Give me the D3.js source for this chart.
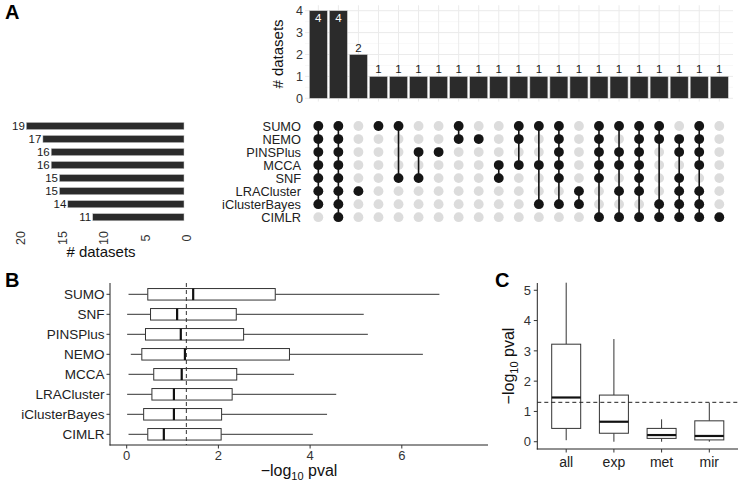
<!DOCTYPE html>
<html><head><meta charset="utf-8">
<script src="https://cdn.jsdelivr.net/npm/d3@7"></script>
<style>
body{margin:0;background:#fff;}
svg{display:block;font-family:"Liberation Sans",Arial,Helvetica,sans-serif;}
</style>
</head><body>
<svg id="chart" width="738" height="486"></svg>
<script>
// ---------- Panel A data ----------
const setNames = ["SUMO","NEMO","PINSPlus","MCCA","SNF","LRACluster","iClusterBayes","CIMLR"];
const setSizes = [19,17,16,16,15,15,14,11];
const intersectionCounts = [4,4,2,1,1,1,1,1,1,1,1,1,1,1,1,1,1,1,1,1,1];
const intersectionMembers = [
  ["SUMO","NEMO","PINSPlus","MCCA","SNF","LRACluster","iClusterBayes"],
  ["SUMO","NEMO","PINSPlus","MCCA","SNF","LRACluster","iClusterBayes","CIMLR"],
  ["LRACluster"],
  ["SUMO"],
  ["SUMO","SNF"],
  ["PINSPlus","SNF"],
  ["PINSPlus"],
  ["SUMO","NEMO"],
  ["NEMO"],
  ["MCCA","SNF"],
  ["SUMO","NEMO","MCCA"],
  ["SUMO","MCCA","iClusterBayes"],
  ["SUMO","NEMO","PINSPlus","MCCA","SNF","iClusterBayes"],
  ["LRACluster","iClusterBayes"],
  ["SUMO","NEMO","PINSPlus","MCCA","SNF","CIMLR"],
  ["SUMO","PINSPlus","MCCA","LRACluster","CIMLR"],
  ["SUMO","NEMO","PINSPlus","MCCA","SNF","LRACluster","CIMLR"],
  ["SUMO","NEMO","iClusterBayes","CIMLR"],
  ["NEMO","PINSPlus","SNF","LRACluster","iClusterBayes","CIMLR"],
  ["SUMO","NEMO","PINSPlus","MCCA","LRACluster","iClusterBayes","CIMLR"],
  ["CIMLR"]
];
const countTicks = [0,1,2,3,4];
const sizeTicks = [20,15,10,5,0];

// ---------- Panel B data ----------
const methods = ["SUMO","SNF","PINSPlus","NEMO","MCCA","LRACluster","iClusterBayes","CIMLR"];
const methodLow    = [0.04,0.01,0.01,0.09,0.04,0.01,0.01,0.04];
const methodQ1     = [0.46,0.52,0.41,0.33,0.59,0.55,0.37,0.46];
const methodMedian = [1.45,1.10,1.18,1.27,1.20,1.03,1.03,0.81];
const methodQ3     = [3.24,2.39,2.55,3.55,2.40,2.30,2.07,2.06];
const methodHigh   = [6.82,5.17,5.26,6.46,3.65,4.57,4.37,4.06];
const methodTicks = [0,2,4,6];

// ---------- Panel C data ----------
const omics = ["all","exp","met","mir"];
const omicsLow    = [0.05,0.00,0.00,0.00];
const omicsQ1     = [0.44,0.28,0.11,0.06];
const omicsMedian = [1.46,0.66,0.22,0.19];
const omicsQ3     = [3.22,1.54,0.44,0.69];
const omicsHigh   = [5.25,3.39,0.74,1.29];
const omicsTicks = [0,1,2,3,4,5];

const threshold = -Math.log10(0.05);

const svg = d3.select("#chart");
const DARK = "#2b2b2b";

// ========== Panel A ==========
svg.append("text").attr("x",5).attr("y",18.5).attr("font-size",20).attr("font-weight","bold").text("A");

const xI = d3.scaleBand().domain(d3.range(intersectionCounts.length))
  .range([308.3,729.3]).paddingInner(0.1).paddingOuter(0.05);
const yI = d3.scaleLinear().domain([0,4]).range([98.3,10.7]);
const topG = svg.append("g");
const gx0 = 305, gx1 = 733;
topG.selectAll(".minor").data([0.5,1.5,2.5,3.5]).join("line")
  .attr("x1",gx0).attr("x2",gx1).attr("y1",d=>yI(d)).attr("y2",d=>yI(d))
  .attr("stroke","#f4f4f4").attr("stroke-width",0.6);
topG.selectAll(".major").data(countTicks).join("line")
  .attr("x1",gx0).attr("x2",gx1).attr("y1",d=>yI(d)).attr("y2",d=>yI(d))
  .attr("stroke","#ebebeb").attr("stroke-width",1);
topG.selectAll(".vgrid").data(d3.range(intersectionCounts.length)).join("line")
  .attr("x1",d=>xI(d)+xI.bandwidth()/2).attr("x2",d=>xI(d)+xI.bandwidth()/2)
  .attr("y1",yI(-0.15)).attr("y2",yI(4.25))
  .attr("stroke","#ebebeb").attr("stroke-width",1);
topG.selectAll(".bar").data(intersectionCounts).join("rect")
  .attr("x",(d,i)=>xI(i)).attr("width",xI.bandwidth())
  .attr("y",d=>yI(d)).attr("height",d=>yI(0)-yI(d))
  .attr("fill",DARK).attr("stroke","#cfcfcf").attr("stroke-width",0.6);
const maxCount = d3.max(intersectionCounts);
topG.selectAll(".lbl").data(intersectionCounts).join("text")
  .attr("x",(d,i)=>xI(i)+xI.bandwidth()/2)
  .attr("y",d=> d===maxCount ? yI(d)+11 : yI(d)-3)
  .attr("text-anchor","middle").attr("font-size",11.5)
  .attr("fill",d=> d===maxCount ? "#ffffff" : "#1a1a1a")
  .text(d=>d);
topG.selectAll(".tick").data(countTicks).join("text")
  .attr("x",303).attr("y",d=>yI(d)).attr("dy","0.36em")
  .attr("text-anchor","end").attr("font-size",12.5).attr("fill","#333")
  .text(d=>d);
topG.append("text").attr("transform","translate(283,54) rotate(-90)")
  .attr("text-anchor","middle").attr("font-size",15).attr("fill","#111").text("# datasets");

// matrix
const yM = d3.scalePoint().domain(setNames).range([126,217.2]);
const mat = svg.append("g");
mat.selectAll(".setlbl").data(setNames).join("text")
  .attr("x",301).attr("y",d=>yM(d)).attr("dy","0.36em")
  .attr("text-anchor","end").attr("font-size",12.8).attr("fill","#222").text(d=>d);
const cx = i => xI(i)+xI.bandwidth()/2;
intersectionMembers.forEach((mem,i)=>{
  mat.append("g").selectAll("circle").data(setNames).join("circle")
    .attr("cx",cx(i)).attr("cy",d=>yM(d)).attr("r",4.9)
    .attr("fill","#dcdcdc");
});
mat.selectAll(".conn").data(intersectionMembers).join("line")
  .attr("x1",(d,i)=>cx(i)).attr("x2",(d,i)=>cx(i))
  .attr("y1",d=>d3.min(d,s=>yM(s))).attr("y2",d=>d3.max(d,s=>yM(s)))
  .attr("stroke","#111").attr("stroke-width",1.6);
intersectionMembers.forEach((mem,i)=>{
  mat.append("g").selectAll("circle").data(mem).join("circle")
    .attr("cx",cx(i)).attr("cy",d=>yM(d)).attr("r",4.9)
    .attr("fill","#151515");
});

// set size bars
const xS = d3.scaleLinear().domain([0,20]).range([184,18]);
const ss = svg.append("g");
ss.selectAll(".sbar").data(setSizes).join("rect")
  .attr("x",d=>xS(d)).attr("width",d=>xS(0)-xS(d))
  .attr("y",(d,i)=>yM(setNames[i])-3.6).attr("height",7.2)
  .attr("fill",DARK).attr("stroke","#cfcfcf").attr("stroke-width",0.5);
ss.selectAll(".slbl").data(setSizes).join("text")
  .attr("x",d=>xS(d)-1.5).attr("y",(d,i)=>yM(setNames[i])).attr("dy","0.36em")
  .attr("text-anchor","end").attr("font-size",11.5).attr("fill","#1a1a1a").text(d=>d);
ss.selectAll(".stick").data(sizeTicks).join("text")
  .attr("transform",d=>`translate(${xS(d)+2.5},238) rotate(-90)`)
  .attr("dy","0.36em").attr("text-anchor","middle").attr("font-size",12.5).attr("fill","#333")
  .text(d=>d);
ss.append("text").attr("x",101).attr("y",257).attr("text-anchor","middle")
  .attr("font-size",15).attr("fill","#111").text("# datasets");

// ========== Panel B ==========
svg.append("text").attr("x",5).attr("y",287).attr("font-size",20).attr("font-weight","bold").text("B");
const xB = d3.scaleLinear().domain([-0.364,7.88]).range([110,488]);
const yB = d3.scalePoint().domain(methods).range([294.3,434.3]);
const gB = svg.append("g");
gB.append("line").attr("x1",110).attr("x2",110).attr("y1",283).attr("y2",445.5).attr("stroke","#222").attr("stroke-width",1);
gB.append("line").attr("x1",109.5).attr("x2",488).attr("y1",445).attr("y2",445).attr("stroke","#222").attr("stroke-width",1);
gB.selectAll(".yt").data(methods).join("line")
  .attr("x1",106.5).attr("x2",110).attr("y1",d=>yB(d)).attr("y2",d=>yB(d)).attr("stroke","#333");
gB.selectAll(".yl").data(methods).join("text")
  .attr("x",104.5).attr("y",d=>yB(d)).attr("dy","0.36em").attr("text-anchor","end")
  .attr("font-size",13.5).attr("fill","#222").text(d=>d);
gB.selectAll(".xt").data(methodTicks).join("line")
  .attr("x1",d=>xB(d)).attr("x2",d=>xB(d)).attr("y1",445).attr("y2",448.5).attr("stroke","#333");
gB.selectAll(".xl").data(methodTicks).join("text")
  .attr("x",d=>xB(d)).attr("y",460).attr("text-anchor","middle")
  .attr("font-size",13).attr("fill","#333").text(d=>d);
const tB = gB.append("text").attr("x",299).attr("y",476).attr("text-anchor","middle").attr("font-size",16).attr("fill","#111");
tB.append("tspan").text("\u2212log");
tB.append("tspan").attr("font-size",11).attr("dy",4).text("10");
tB.append("tspan").attr("dy",-4).text(" pval");
const bh = 11.5;
methods.forEach((m,i)=>{
  const y = yB(m);
  gB.append("line").attr("x1",xB(methodLow[i])).attr("x2",xB(methodQ1[i])).attr("y1",y).attr("y2",y).attr("stroke","#333").attr("stroke-width",1);
  gB.append("line").attr("x1",xB(methodQ3[i])).attr("x2",xB(methodHigh[i])).attr("y1",y).attr("y2",y).attr("stroke","#333").attr("stroke-width",1);
  gB.append("rect").attr("x",xB(methodQ1[i])).attr("width",xB(methodQ3[i])-xB(methodQ1[i]))
    .attr("y",y-bh/2).attr("height",bh).attr("fill","#fff").attr("stroke","#333").attr("stroke-width",1);
  gB.append("line").attr("x1",xB(methodMedian[i])).attr("x2",xB(methodMedian[i])).attr("y1",y-bh/2).attr("y2",y+bh/2).attr("stroke","#111").attr("stroke-width",2.2);
});
gB.append("line").attr("x1",xB(threshold)).attr("x2",xB(threshold)).attr("y1",283).attr("y2",445)
  .attr("stroke","#333").attr("stroke-width",1).attr("stroke-dasharray","4,3");

// ========== Panel C ==========
svg.append("text").attr("x",495).attr("y",287).attr("font-size",20).attr("font-weight","bold").text("C");
const yC = d3.scaleLinear().domain([-0.24,5.24]).range([449,283]);
const xC = d3.scalePoint().domain(omics).range([566.2,709.3]);
const gC = svg.append("g");
gC.append("line").attr("x1",537.3).attr("x2",537.3).attr("y1",283).attr("y2",449.5).attr("stroke","#222");
gC.append("line").attr("x1",536.8).attr("x2",738).attr("y1",449).attr("y2",449).attr("stroke","#222");
gC.selectAll(".yt").data(omicsTicks).join("line")
  .attr("x1",533.8).attr("x2",537.3).attr("y1",d=>yC(d)).attr("y2",d=>yC(d)).attr("stroke","#333");
gC.selectAll(".yl").data(omicsTicks).join("text")
  .attr("x",531).attr("y",d=>yC(d)).attr("dy","0.36em").attr("text-anchor","end")
  .attr("font-size",13).attr("fill","#333").text(d=>d);
gC.selectAll(".xt").data(omics).join("line")
  .attr("x1",d=>xC(d)).attr("x2",d=>xC(d)).attr("y1",449).attr("y2",452.5).attr("stroke","#333");
gC.selectAll(".xl").data(omics).join("text")
  .attr("x",d=>xC(d)).attr("y",467).attr("text-anchor","middle")
  .attr("font-size",14).attr("fill","#222").text(d=>d);
const tC = gC.append("text").attr("transform","translate(514,366) rotate(-90)").attr("text-anchor","middle").attr("font-size",16).attr("fill","#111");
tC.append("tspan").text("\u2212log");
tC.append("tspan").attr("font-size",11).attr("dy",4).text("10");
tC.append("tspan").attr("dy",-4).text(" pval");
const bw = 29;
omics.forEach((o,i)=>{
  const x = xC(o);
  gC.append("line").attr("x1",x).attr("x2",x).attr("y1",yC(omicsLow[i])).attr("y2",yC(omicsQ1[i])).attr("stroke","#333");
  gC.append("line").attr("x1",x).attr("x2",x).attr("y1",yC(omicsQ3[i])).attr("y2",yC(omicsHigh[i])).attr("stroke","#333");
  gC.append("rect").attr("x",x-bw/2).attr("width",bw).attr("y",yC(omicsQ3[i])).attr("height",yC(omicsQ1[i])-yC(omicsQ3[i]))
    .attr("fill","#fff").attr("stroke","#333");
  gC.append("line").attr("x1",x-bw/2).attr("x2",x+bw/2).attr("y1",yC(omicsMedian[i])).attr("y2",yC(omicsMedian[i])).attr("stroke","#111").attr("stroke-width",2.2);
});
gC.append("line").attr("x1",537.3).attr("x2",738).attr("y1",yC(threshold)).attr("y2",yC(threshold))
  .attr("stroke","#222").attr("stroke-width",1).attr("stroke-dasharray","4,3");
</script>
</body></html>
